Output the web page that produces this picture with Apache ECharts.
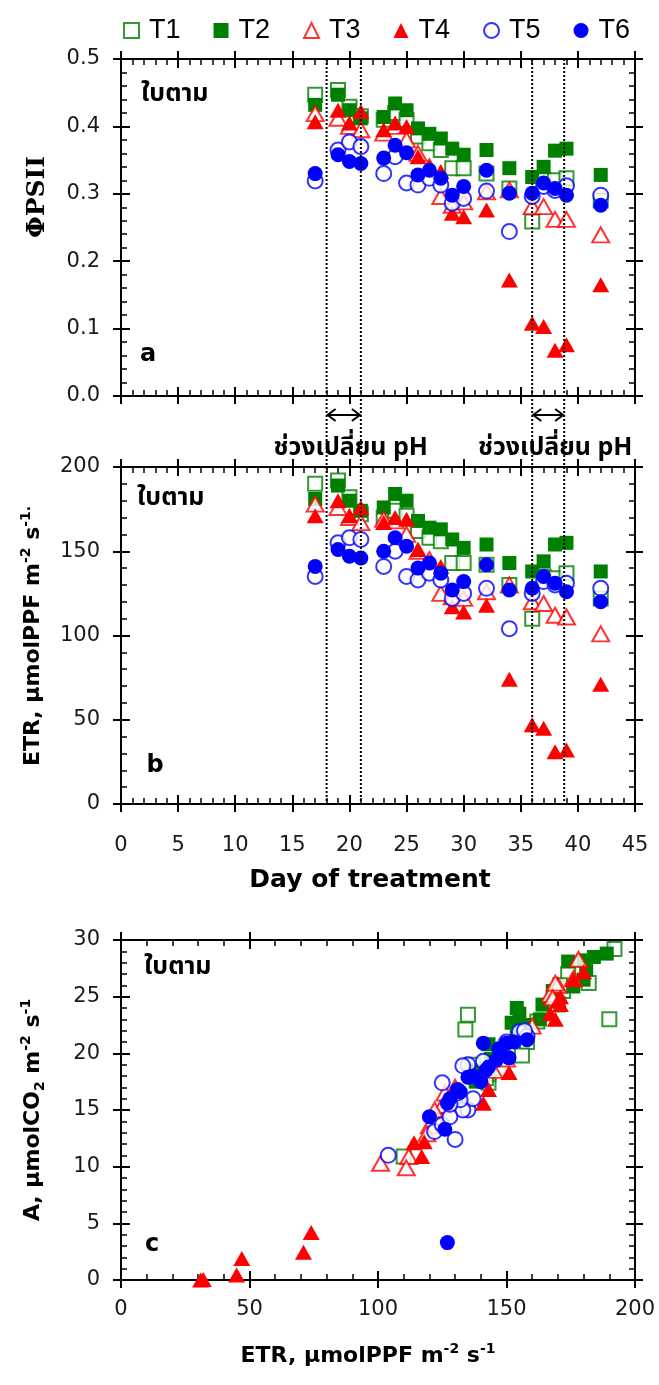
<!DOCTYPE html>
<html><head><meta charset="utf-8">
<script src="https://cdn.jsdelivr.net/npm/echarts@6/dist/echarts.min.js"></script>
<style>html,body{margin:0;padding:0;background:#fff}#c{width:659px;height:1385px}</style>
</head><body><div id="c"></div>
<script>
// ---- data ----
const days = [17, 19, 20, 21, 23, 24, 25, 26, 27, 28, 29, 30, 32, 34, 36, 37, 38, 39, 42];
const phChangeDays = [18, 21, 36, 38.8];
const seriesNames = ['T1', 'T2', 'T3', 'T4', 'T5', 'T6'];

const psiiT1 = [0.447, 0.454, 0.429, 0.415, 0.410, 0.420, 0.410, 0.385, 0.375, 0.365, 0.338, 0.338, 0.330, 0.308, 0.259, 0.320, 0.320, 0.323, 0.290];
const psiiT2 = [0.432, 0.447, 0.424, 0.412, 0.414, 0.434, 0.424, 0.397, 0.389, 0.382, 0.367, 0.358, 0.365, 0.338, 0.325, 0.340, 0.364, 0.367, 0.328];
const psiiT3 = [0.419, 0.412, 0.400, 0.395, 0.390, 0.400, 0.380, 0.360, 0.340, 0.296, 0.283, 0.288, 0.303, 0.306, 0.281, 0.281, 0.262, 0.262, 0.239];
const psiiT4 = [0.407, 0.424, 0.405, 0.422, 0.395, 0.405, 0.400, 0.355, 0.340, 0.333, 0.271, 0.266, 0.276, 0.172, 0.108, 0.103, 0.068, 0.076, 0.165];
const psiiT5 = [0.319, 0.365, 0.377, 0.370, 0.330, 0.355, 0.316, 0.313, 0.323, 0.313, 0.286, 0.293, 0.304, 0.244, 0.296, 0.311, 0.305, 0.312, 0.298];
const psiiT6 = [0.330, 0.358, 0.348, 0.345, 0.353, 0.372, 0.361, 0.328, 0.335, 0.323, 0.298, 0.311, 0.335, 0.301, 0.301, 0.316, 0.308, 0.298, 0.283];

const etrT1 = [190, 192, 182, 172, 170, 174, 171, 162, 158, 156, 143, 143, 142, 130, 110, 135, 134, 137, 122];
const etrT2 = [181, 189, 180, 174, 176, 184, 180, 168, 164, 163, 157, 152, 154, 143, 138, 144, 154, 155, 138];
const etrT3 = [178, 176, 170, 167, 169, 168, 160, 150, 145, 125, 123, 122, 126, 130, 120, 119, 112, 111, 101];
const etrT4 = [171, 180, 171, 176, 167, 170, 169, 151, 143, 141, 117, 114, 118, 74, 47, 45, 31, 32, 71];
const etrT5 = [135, 155, 158, 157, 141, 150, 135, 133, 137, 133, 122, 125, 128, 104, 125, 132, 130, 131, 128];
const etrT6 = [141, 151, 147, 146, 150, 158, 153, 140, 143, 137, 127, 132, 142, 127, 128, 135, 131, 126, 120];

const aT1 = [23.0, 29.2, 26.2, 25.5, 24.3, 27.0, 26.0, 22.8, 21.0, 19.8, 17.4, 18.2, 17.8, 16.0, 10.9, 23.4, 22.1, 19.0, 14.0];
const aT2 = [27.4, 28.8, 28.2, 28.1, 25.9, 28.5, 26.5, 25.5, 24.3, 23.0, 22.5, 22.7, 24.0, 20.8, 18.5, 19.5, 21.5, 23.5, 17.5];
const aT3 = [28.3, 26.6, 26.0, 25.2, 26.2, 24.9, 22.4, 19.5, 18.5, 15.4, 14.0, 15.0, 16.5, 17.0, 13.6, 12.9, 10.9, 9.9, 10.3];
const aT4 = [25.0, 27.2, 24.3, 26.5, 23.5, 24.6, 23.0, 18.3, 16.8, 15.6, 10.9, 12.1, 12.2, 4.2, 1.9, 0.45, 0.0, 0.05, 2.45];
const aT5 = [15.0, 21.9, 21.5, 22.0, 19.3, 21.0, 19.0, 18.9, 16.0, 15.0, 13.1, 13.7, 14.4, 11.0, 17.4, 15.9, 12.4, 16.5, 15.5];
const aT6 = [20.9, 19.6, 20.4, 19.4, 20.9, 21.2, 21.0, 17.5, 18.8, 18.0, 15.6, 16.6, 18.5, 3.3, 16.0, 17.9, 16.8, 13.3, 14.4];

const psii = [psiiT1, psiiT2, psiiT3, psiiT4, psiiT5, psiiT6];
const etr = [etrT1, etrT2, etrT3, etrT4, etrT5, etrT6];
const aRate = [aT1, aT2, aT3, aT4, aT5, aT6];

// ---- styles ----
const GREEN = '#008000', RED = '#ff0000', BLUE = '#0000ff';
const styles = {
  T1: {symbol: 'rect', size: 14, open: true, color: GREEN},
  T2: {symbol: 'rect', size: 14, open: false, color: GREEN},
  T3: {symbol: 'triangle', size: [17, 15], open: true, color: RED},
  T4: {symbol: 'triangle', size: [17, 15], open: false, color: RED},
  T5: {symbol: 'circle', size: 15, open: true, color: BLUE},
  T6: {symbol: 'circle', size: 15, open: false, color: BLUE}
};
const LABEL_FONT = "'DejaVu Sans', Verdana, sans-serif";
const THAI_FONT = "'Noto Sans Thai', Tahoma, 'Loma', 'Garuda', 'DejaVu Sans', sans-serif";

const grids = [
  {left: 121, top: 59, width: 514, height: 337},
  {left: 121, top: 467, width: 514, height: 337},
  {left: 121, top: 940, width: 514, height: 340}
];

function axisSet(dim, gi, min, max, interval, showLabel, margin, fmt) {
  const pos = dim === 'x' ? ['bottom', 'top'] : ['left', 'right'];
  const common = {
    type: 'value', gridIndex: gi, min, max, interval,
    splitLine: {show: false},
    axisLine: {show: true, onZero: false, lineStyle: {color: '#000', width: 2}}
  };
  const out = [];
  pos.forEach((p, k) => {
    out.push(Object.assign({}, common, {
      position: p,
      axisTick: {show: true, inside: false, length: 8, lineStyle: {color: '#000', width: 2}},
      axisLabel: {show: showLabel && k === 0, margin: margin, color: '#1a1a1a', fontSize: 21,
        fontFamily: LABEL_FONT, formatter: fmt}
    }));
    out.push(Object.assign({}, common, {
      position: p,
      axisTick: {show: true, inside: true, length: 9, lineStyle: {color: '#000', width: 2}},
      minorTick: {show: true, splitNumber: 5, length: 6, lineStyle: {color: '#000', width: 1.5}},
      axisLabel: {show: false}
    }));
  });
  return out;
}

const xAxes = [].concat(
  axisSet('x', 0, 0, 45, 5, false, 27),
  axisSet('x', 1, 0, 45, 5, true, 31),
  axisSet('x', 2, 0, 200, 50, true, 19)
);
const yAxes = [].concat(
  axisSet('y', 0, 0, 0.5, 0.1, true, 21, v => v.toFixed(1)),
  axisSet('y', 1, 0, 200, 50, true, 21),
  axisSet('y', 2, 0, 30, 5, true, 21)
);

function mk(name, gi, xs, ys) {
  const s = styles[name];
  return {
    type: 'scatter', name, xAxisIndex: gi * 4, yAxisIndex: gi * 4,
    symbol: s.symbol, symbolSize: s.size, clip: false,
    data: xs.map((x, i) => [x, ys[i]]),
    itemStyle: s.open ? {color: '#fff', borderColor: s.color, borderWidth: 2}
                      : {color: s.color, borderColor: s.color, borderWidth: 0, opacity: 1},
    emphasis: {disabled: true}
  };
}

const series = [];
seriesNames.forEach((n, i) => series.push(mk(n, 0, days, psii[i])));
seriesNames.forEach((n, i) => series.push(mk(n, 1, days, etr[i])));
seriesNames.forEach((n, i) => series.push(mk(n, 2, etr[i], aRate[i])));

const chart = echarts.init(document.getElementById('c'), null, {renderer: 'canvas'});
chart.setOption({
  animation: false,
  backgroundColor: '#fff',
  grid: grids,
  xAxis: xAxes,
  yAxis: yAxes,
  legend: {
    data: seriesNames, top: 12, left: 118, width: 540, itemWidth: 15, itemHeight: 15, itemGap: 33,
    selectedMode: false, padding: 5,
    textStyle: {fontSize: 27, color: '#000', fontFamily: "'Liberation Sans Narrow', 'Arial Narrow', 'Liberation Sans', sans-serif", padding: [0, 0, 0, 5]}
  },
  series
});

// ---- annotations computed through the axes ----
const px = v => chart.convertToPixel({xAxisIndex: 0}, v);
const yTopA = chart.convertToPixel({yAxisIndex: 0}, 0.5);
const yBotA = chart.convertToPixel({yAxisIndex: 0}, 0);
const yTopB = chart.convertToPixel({yAxisIndex: 4}, 200);
const yBotB = chart.convertToPixel({yAxisIndex: 4}, 0);
const lineStyleDot = {stroke: '#000', lineWidth: 2, lineDash: [2, 2]};
const g = [];
phChangeDays.forEach(d => {
  const x = px(d);
  g.push({type: 'line', z: 50, shape: {x1: x, y1: yTopA, x2: x, y2: yBotB}, style: lineStyleDot});
});
const arrowY = yBotA + 19;
[[phChangeDays[0], phChangeDays[1]], [phChangeDays[2], phChangeDays[3]]].forEach(([d1, d2]) => {
  const x1 = px(d1) + 1, x2 = px(d2) - 1;
  const st = {stroke: '#000', lineWidth: 2, fill: null};
  g.push({type: 'line', z: 50, shape: {x1, y1: arrowY, x2, y2: arrowY}, style: st});
  g.push({type: 'polyline', z: 50, shape: {points: [[x1 + 8, arrowY - 6], [x1, arrowY], [x1 + 8, arrowY + 6]]}, style: st});
  g.push({type: 'polyline', z: 50, shape: {points: [[x2 - 8, arrowY - 6], [x2, arrowY], [x2 - 8, arrowY + 6]]}, style: st});
  g.push({type: 'text', z: 60, x: (x1 + x2) / 2 + 7, y: yTopB - 17,
    style: {text: 'ช่วงเปลี่ยน pH', fontSize: 25, fontWeight: 'bold', fontFamily: THAI_FONT,
      fill: '#000', align: 'center', verticalAlign: 'middle'}});
});

function txt(x, y, text, size, opts) {
  return {type: 'text', z: 60, x, y,
    style: Object.assign({text, fontSize: size, fontWeight: 'bold', fontFamily: LABEL_FONT,
      fill: '#000', align: 'center', verticalAlign: 'middle'}, opts || {})};
}
// panel tags
g.push(txt(141, 96, 'ใบตาม', 25, {fontFamily: THAI_FONT, align: 'left'}));
g.push(txt(137, 500, 'ใบตาม', 25, {fontFamily: THAI_FONT, align: 'left'}));
g.push(txt(144, 969, 'ใบตาม', 25, {fontFamily: THAI_FONT, align: 'left'}));
g.push(txt(148, 355, 'a', 24));
g.push(txt(155, 766, 'b', 24));
g.push(txt(152, 1245, 'c', 24));
// axis titles
g.push(Object.assign(txt(37, 197, 'ΦPSII', 25, {fontFamily: "'DejaVu Serif', serif"}), {rotation: Math.PI / 2}));
const supRich = {
  sup: {fontSize: 14, fontWeight: 'bold', fontFamily: LABEL_FONT, verticalAlign: 'top', lineHeight: 28},
  sub: {fontSize: 14, fontWeight: 'bold', fontFamily: LABEL_FONT, verticalAlign: 'bottom', lineHeight: 28}
};
g.push(Object.assign(txt(33, 636, 'ETR, μmolPPF m{sup|-2} s{sup|-1.}', 22, {rich: supRich, lineHeight: 28}), {rotation: Math.PI / 2}));
g.push(Object.assign(txt(33, 1110, 'A, μmolCO{sub|2} m{sup|-2} s{sup|-1}', 22, {rich: supRich, lineHeight: 28}), {rotation: Math.PI / 2}));
g.push(txt(370, 880, 'Day of treatment', 25));
g.push(txt(368, 1356, 'ETR, μmolPPF m{sup|-2} s{sup|-1}', 22, {rich: supRich, lineHeight: 28}));

chart.setOption({graphic: g});
</script>
</body></html>
